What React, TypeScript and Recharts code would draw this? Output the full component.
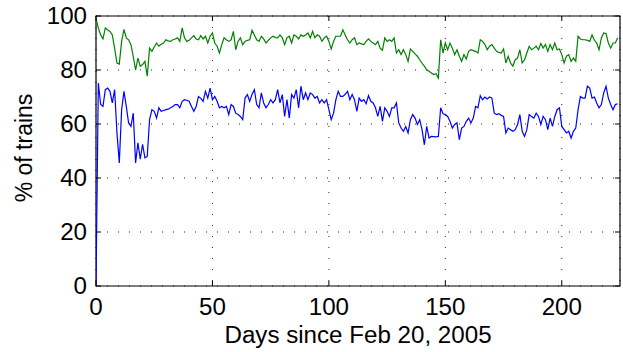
import { LineChart, Line, XAxis, YAxis, CartesianGrid, ReferenceArea } from 'recharts'

// daily share of trains (%), day 0 .. 224
const GREEN_PCT = [
  99, 95.6, 93, 91.5, 95.6, 94.8, 94.3, 93, 88, 82.6,
  82.2, 90.6, 95, 91.9, 91.2, 89.4, 85, 80, 84.4, 81.4,
  82, 83.2, 77.7, 88.1, 86.9, 88.5, 90, 88.8, 89.5, 90,
  91.2, 90.8, 90.6, 91.2, 91.5, 91.9, 90.6, 95.6, 91.9, 90.6,
  91, 91.9, 92.7, 91.5, 91.2, 92.7, 91.5, 92.5, 90, 92.5,
  93.7, 90, 88.8, 86.3, 89.4, 91.9, 91.2, 90.6, 91.2, 94.3,
  87.5, 90.6, 91.9, 89.4, 90.6, 91, 91.2, 94.7, 93, 91.2,
  90.6, 92.5, 91.5, 90, 91, 91.9, 92.5, 92, 91.9, 93,
  91.9, 89.4, 91.9, 92.5, 90, 93, 92.5, 91.5, 93, 92.5,
  93, 93.7, 91.9, 94.3, 91.9, 93, 92.5, 90.6, 91.9, 92.5,
  90.6, 87.8, 90.6, 92.5, 92.5, 92.5, 94.9, 93, 91.2, 90,
  91.2, 91.9, 89.4, 90, 89.7, 89.4, 90.6, 91.5, 90.6, 90,
  89.4, 90.6, 88.1, 87.3, 91.9, 90.6, 91.2, 90.6, 91.9, 86.3,
  87.5, 85.7, 87.5, 85.7, 83.2, 87.8, 86.9, 86, 85.1, 83.8,
  82.5, 81.4, 80.1, 79.5, 78.9, 78.3, 78.6, 77, 91.2, 86.3,
  90, 87.5, 90, 88.1, 85.7, 87.5, 85.1, 83.2, 85.7, 84.1,
  86.9, 87.5, 87.2, 86.9, 86.3, 91.2, 90.6, 89.4, 87.5, 88.8,
  89.4, 88.1, 86.9, 86.5, 86.3, 87.8, 82.6, 85.1, 82.6, 81.4,
  83.8, 84.4, 87.5, 82.6, 83.8, 86.3, 88.8, 87.5, 88.1, 88.8,
  87.5, 89.8, 88.1, 89.4, 86.9, 89.4, 87.5, 90, 87.5, 87.8,
  85.7, 82.6, 85.1, 85.7, 83.2, 84.4, 83.2, 92.5, 91.5, 91.2,
  91.2, 91, 90.6, 93, 91, 90, 87.5, 91.9, 93.7, 93.5,
  90, 88.1, 90, 90, 91.9,
]

const BLUE_PCT = [
  0, 75.2, 67.2, 66.5, 72.7, 73.3, 72.1, 67.8, 72.7, 56.7,
  45.6, 65.3, 72.1, 66.5, 60.4, 59.1, 64, 45.6, 53, 47,
  52.5, 47.5, 48, 61.6, 65.3, 64.7, 62.2, 66, 64.7, 65,
  65.3, 65.5, 66, 66.5, 67.2, 67.2, 66, 68.4, 69, 68.8,
  68.4, 66.5, 64.7, 66.5, 70.2, 69.5, 68.4, 72.1, 69.6, 73.3,
  69, 70.2, 68.4, 66, 66.5, 66, 66.5, 63.5, 67.2, 66.5,
  64, 63.5, 62.8, 61.6, 69.6, 70.9, 68.4, 71, 72.7, 67.2,
  66, 71.5, 67.8, 66, 67.2, 69, 67.8, 69, 72.7, 67.8,
  70.9, 62.8, 69, 62.2, 70.9, 69.6, 72.7, 66, 74, 69,
  71.5, 69, 71.5, 70.9, 69.6, 70.2, 67.8, 69, 67.8, 69,
  65.3, 61.6, 64, 69, 72.1, 70.2, 70.2, 71, 72.1, 69,
  70.9, 69, 64.7, 69.6, 68.4, 69, 67.5, 70.5, 68.4, 67.8,
  66, 62.8, 66.5, 61, 66, 64.7, 62.8, 66, 66, 67.8,
  60.4, 58.5, 57.3, 59.1, 56.7, 61.6, 63.5, 62.2, 59.8, 61.6,
  57.9, 52.3, 59.1, 54.8, 55.4, 55.3, 55.2, 55.4, 66, 63.8,
  63.5, 62.8, 61, 58.5, 59.8, 60.4, 54.2, 58.5, 59.1, 61,
  62.2, 60.4, 62.2, 66.5, 66, 70.5, 69, 70, 69.3, 70,
  69.6, 64, 63.5, 63.8, 63.2, 62.8, 56.7, 58.5, 57.9, 57.3,
  57.9, 59.8, 63.5, 57.3, 55.4, 57.9, 63.5, 62.8, 62.2, 64,
  62.8, 59.8, 62.8, 61.6, 57.9, 62.2, 59.1, 62.8, 65.3, 66,
  59.1, 57.9, 56.7, 57.3, 54.8, 57.3, 58.5, 65.3, 70.2, 69.6,
  69.6, 74, 73.3, 69.6, 70, 67.8, 66, 67.2, 71.5, 74,
  69.6, 67.2, 65.3, 67.2, 67.5,
]

const DAYS = GREEN_PCT.map((_, i) => i)
const X_TICKS = [0, 50, 100, 150, 200]
const Y_TICKS = [0, 20, 40, 60, 80, 100]
const X_MAX = 225

const rows = DAYS.map((day, i) => ({ day, green: GREEN_PCT[i], blue: BLUE_PCT[i] }))

const W = 623
const H = 352
const MARGIN = { top: 16, right: 3, bottom: 0, left: 0 }
const Y_AXIS_W = 96
const X_AXIS_H = 66
const PLOT_TOP = MARGIN.top
const PLOT_BOTTOM = H - MARGIN.bottom - X_AXIS_H
const PLOT_LEFT = MARGIN.left + Y_AXIS_W
const PLOT_RIGHT = W - MARGIN.right
const TICK_LEN = 5
const FONT = 23
const STRETCH = 1.05 // the source text is a little wider than Liberation Sans

// matlab style: inward tick marks on both sides of the box
function XTick({ x, payload }: any) {
  const ty = PLOT_BOTTOM + 12
  return (
    <g>
      <line x1={x} x2={x} y1={PLOT_BOTTOM} y2={PLOT_BOTTOM - TICK_LEN} stroke="#000" />
      <line x1={x} x2={x} y1={PLOT_TOP} y2={PLOT_TOP + TICK_LEN} stroke="#000" />
      <text transform={`translate(${x} ${ty}) scale(${STRETCH} 1)`} dy="0.72em" textAnchor="middle" fontSize={FONT} fill="#000">
        {payload.value}
      </text>
    </g>
  )
}

function YTick({ y, payload }: any) {
  const tx = PLOT_LEFT - 9
  return (
    <g>
      <line x1={PLOT_LEFT} x2={PLOT_LEFT + TICK_LEN} y1={y} y2={y} stroke="#000" />
      <line x1={PLOT_RIGHT} x2={PLOT_RIGHT - TICK_LEN} y1={y} y2={y} stroke="#000" />
      <text transform={`translate(${tx} ${y}) scale(${STRETCH} 1)`} dominantBaseline="central" textAnchor="end" fontSize={FONT} fill="#000">
        {payload.value}
      </text>
    </g>
  )
}

function XLabel() {
  const cx = (PLOT_LEFT + PLOT_RIGHT) / 2
  return (
    <text transform={`translate(${cx} ${H - 9}) scale(${STRETCH} 1)`} textAnchor="middle" fontSize={FONT} fill="#000">
      Days since Feb 20, 2005
    </text>
  )
}

function YLabel() {
  const cx = 24
  const cy = (PLOT_TOP + PLOT_BOTTOM) / 2 - 3
  return (
    <text x={cx} y={cy} transform={`rotate(-90 ${cx} ${cy})`} textAnchor="middle" dominantBaseline="central" fontSize={FONT} fill="#000">
      % of trains
    </text>
  )
}

export default function App() {
  return (
    <div style={{ position: 'absolute', left: 0, top: 0, width: W, height: H, background: '#fff', fontFamily: '"Liberation Sans", Arial, sans-serif' }}>
      <LineChart width={W} height={H} data={rows} margin={MARGIN}>
        <CartesianGrid stroke="#222" strokeDasharray="1 10" />
        <XAxis
          dataKey="day"
          type="number"
          domain={[0, X_MAX]}
          ticks={X_TICKS}
          height={X_AXIS_H}
          axisLine={false}
          tickLine={false}
          tickSize={0}
          tick={<XTick />}
          label={<XLabel />}
          allowDataOverflow
        />
        <YAxis
          type="number"
          domain={[0, 100]}
          ticks={Y_TICKS}
          width={Y_AXIS_W}
          axisLine={false}
          tickLine={false}
          tickSize={0}
          tick={<YTick />}
          label={<YLabel />}
          allowDataOverflow
        />
        <ReferenceArea x1={0} x2={X_MAX} y1={0} y2={100} fill="none" stroke="#000" strokeWidth={1.2} fillOpacity={0} />
        <Line dataKey="green" stroke="#008000" strokeWidth={1.2} dot={false} isAnimationActive={false} />
        <Line dataKey="blue" stroke="#0000ff" strokeWidth={1.2} dot={false} isAnimationActive={false} />
      </LineChart>
    </div>
  )
}
